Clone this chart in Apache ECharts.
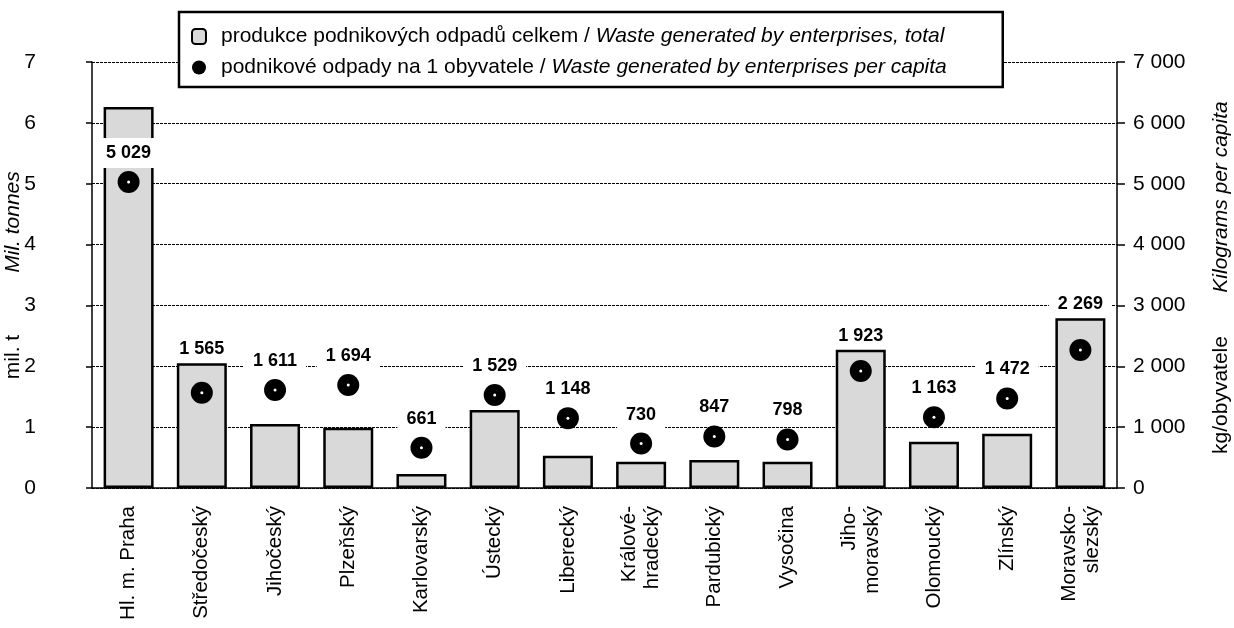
<!DOCTYPE html>
<html>
<head>
<meta charset="utf-8">
<title>Podnikové odpady podle krajů</title>
<script src="https://cdn.jsdelivr.net/npm/echarts@6/dist/echarts.min.js"></script>
<style>
  html, body { margin: 0; padding: 0; background: #fff; }
  #chart-content { width: 1234px; height: 628px; }
</style>
</head>
<body>
<div id="chart-content"></div>
<script>
// kraje
const regions = [
  'Hl. m. Praha', 'Středočeský', 'Jihočeský', 'Plzeňský', 'Karlovarský',
  'Ústecký', 'Liberecký', 'Králové-\nhradecký', 'Pardubický', 'Vysočina',
  'Jiho-\nmoravský', 'Olomoucký', 'Zlínský', 'Moravsko-\nslezský'
];
// produkce podnikových odpadů celkem (mil. t)
const wasteTotal = [6.26, 2.05, 1.05, 0.99, 0.23, 1.28, 0.53, 0.43, 0.46, 0.43, 2.27, 0.76, 0.89, 2.79];
// podnikové odpady na 1 obyvatele (kg)
const wastePerCapita = [5029, 1565, 1611, 1694, 661, 1529, 1148, 730, 847, 798, 1923, 1163, 1472, 2269];
// popisky os
const leftTicks = [0, 1, 2, 3, 4, 5, 6, 7];
const rightTicks = [0, 1000, 2000, 3000, 4000, 5000, 6000, 7000];

const FONT = 'Liberation Sans, Arial, sans-serif';

function fmt(v) {
  return String(v).replace(/\B(?=(\d{3})+(?!\d))/g, ' ');
}

const legendText = {
  total: 'produkce podnikových odpadů celkem / {i|Waste generated by enterprises, total}',
  capita: 'podnikové odpady na 1 obyvatele / {i|Waste generated by enterprises per capita}'
};

// popisek hodnoty s bílým podkladem
const valueLabel = {
  fontFamily: FONT,
  fontSize: 18,
  fontWeight: 'bold',
  color: '#000',
  backgroundColor: '#fff',
  padding: [6, 9]
};

// když sloupec končí kousek nad bodem, popisek jde nad sloupec (jako v originále)
const lifted = wasteTotal.map((t, i) => {
  const d = t - wastePerCapita[i] / 1000;
  return d > 0 && d < 1;
});

const barData = wasteTotal.map((t, i) => ({
  value: t,
  label: lifted[i]
    ? Object.assign({ show: true, position: 'top', distance: 3, formatter: fmt(wastePerCapita[i]) }, valueLabel, { padding: [2, 9] })
    : { show: false }
}));

const pointData = wastePerCapita.map((v, i) => ({
  value: v,
  label: { show: !lifted[i] }
}));

const chart = echarts.init(document.getElementById('chart-content'));

let option = {
  animation: false,
  textStyle: { fontFamily: FONT, color: '#000' },
  grid: { left: 92, right: 117, top: 62, bottom: 140 },
  legend: {
    data: ['total', 'capita'],
    orient: 'vertical',
    left: 179,
    top: 12,
    padding: [14, 56, 9, 12],
    itemGap: 10,
    itemWidth: 14,
    itemHeight: 15,
    backgroundColor: '#fff',
    borderColor: '#000',
    borderWidth: 2.5,
    borderRadius: 0,
    z: 10,
    formatter: name => legendText[name],
    textStyle: {
      fontFamily: FONT,
      fontSize: 21,
      color: '#000',
      padding: [0, 0, 0, 10],
      rich: {
        i: { fontFamily: FONT, fontSize: 21, fontStyle: 'italic', color: '#000' }
      }
    }
  },
  xAxis: {
    type: 'category',
    data: regions,
    axisLine: { lineStyle: { color: '#000', width: 1.5 } },
    axisTick: { length: 8, lineStyle: { color: '#000', width: 1.5 } },
    axisLabel: {
      rotate: 90,
      margin: 18,
      fontSize: 20.5,
      lineHeight: 23,
      color: '#000',
      fontFamily: FONT,
      interval: 0
    }
  },
  yAxis: [
    {
      type: 'value',
      min: leftTicks[0],
      max: leftTicks[leftTicks.length - 1],
      interval: 1,
      axisLine: { show: true, lineStyle: { color: '#000', width: 1.5 } },
      axisTick: { show: true, length: 6, lineStyle: { color: '#000', width: 1.5 } },
      axisLabel: { margin: 56, fontSize: 21, color: '#000', fontFamily: FONT },
      splitLine: { show: true, lineStyle: { color: '#000', width: 1, type: [3, 1] } }
    },
    {
      type: 'value',
      min: rightTicks[0],
      max: rightTicks[rightTicks.length - 1],
      interval: 1000,
      position: 'right',
      axisLine: { show: true, lineStyle: { color: '#000', width: 1.5 } },
      axisTick: { show: true, length: 8, lineStyle: { color: '#000', width: 1.5 } },
      axisLabel: { margin: 16, fontSize: 21, color: '#000', fontFamily: FONT, formatter: v => fmt(v) },
      splitLine: { show: false }
    }
  ],
  graphic: [
    { type: 'text', x: 13, y: 222, rotation: Math.PI / 2,
      style: { text: 'Mil. tonnes', font: 'italic 21px ' + FONT, fill: '#000', align: 'center', verticalAlign: 'middle' } },
    { type: 'text', x: 13, y: 357, rotation: Math.PI / 2,
      style: { text: 'mil. t', font: '21px ' + FONT, fill: '#000', align: 'center', verticalAlign: 'middle' } },
    { type: 'text', x: 1221, y: 197, rotation: Math.PI / 2,
      style: { text: 'Kilograms per capita', font: 'italic 21px ' + FONT, fill: '#000', align: 'center', verticalAlign: 'middle' } },
    { type: 'text', x: 1221, y: 395, rotation: Math.PI / 2,
      style: { text: 'kg/obyvatele', font: '21px ' + FONT, fill: '#000', align: 'center', verticalAlign: 'middle' } }
  ],
  series: [
    {
      name: 'total',
      type: 'bar',
      yAxisIndex: 0,
      data: barData,
      barWidth: 50,
      legendIcon: 'rect',
      z: 2,
      itemStyle: { color: '#d9d9d9', borderColor: '#000', borderWidth: 2.5, opacity: 1 }
    },
    {
      name: 'capita',
      type: 'scatter',
      yAxisIndex: 1,
      data: pointData,
      symbol: 'circle',
      symbolSize: 22,
      itemStyle: { color: '#000', opacity: 1 },
      z: 5,
      label: Object.assign({
        position: 'top',
        distance: 3,
        formatter: p => fmt(p.value)
      }, valueLabel)
    },
    {
      // bílá tečka uprostřed značky
      name: 'dot',
      type: 'scatter',
      yAxisIndex: 1,
      data: wastePerCapita,
      symbol: 'circle',
      symbolSize: 3,
      silent: true,
      itemStyle: { color: '#fff', opacity: 1 },
      z: 6
    }
  ]
};

chart.setOption(option);
</script>
</body>
</html>
